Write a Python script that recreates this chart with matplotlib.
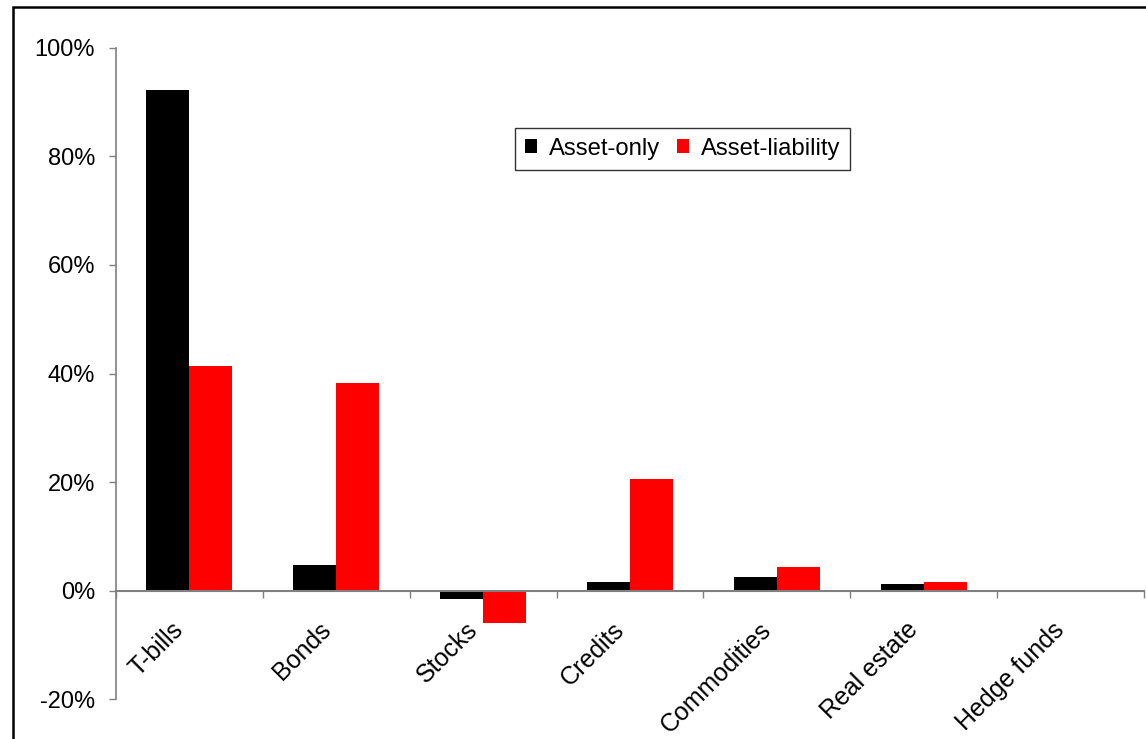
import matplotlib
matplotlib.use("Agg")
import matplotlib.pyplot as plt
from matplotlib.patches import Rectangle
from matplotlib.ticker import FuncFormatter, FixedLocator
from matplotlib.transforms import ScaledTranslation
import numpy as np

plt.rcParams['font.family'] = ['Liberation Sans', 'DejaVu Sans']

categories = ["T-bills", "Bonds", "Stocks", "Credits", "Commodities", "Real estate", "Hedge funds"]
asset_only = [92.3, 4.7, -1.5, 1.6, 2.6, 1.3, 0.0]
asset_liability = [41.4, 38.2, -6.0, 20.6, 4.4, 1.6, 0.0]
y_ticks = [-20, 0, 20, 40, 60, 80, 100]

W, H = 1146, 739
fig = plt.figure(figsize=(W / 100, H / 100), dpi=100)
ax = fig.add_axes([116 / W, 1 - 699.3 / H, (1144 - 116) / W, (699.3 - 47.7) / H])

x = np.arange(len(categories))
bw = 0.293
ax.bar(x - bw / 2, asset_only, width=bw, color="black", label="Asset-only", zorder=2)
ax.bar(x + bw / 2, asset_liability, width=bw, color="#ff0000", label="Asset-liability", zorder=2)

ax.set_xlim(-0.5, len(categories) - 0.5)
ax.set_ylim(-20, 100)

grey = "#808080"
for s in ("top", "right"):
    ax.spines[s].set_visible(False)
ax.spines["left"].set_color(grey)
ax.spines["bottom"].set_color(grey)
ax.spines["bottom"].set_position(("data", 0))
ax.spines["left"].set_linewidth(1.2)
ax.spines["bottom"].set_linewidth(1.5)

ax.set_yticks(y_ticks)
ax.yaxis.set_major_formatter(FuncFormatter(lambda v, p: f"{v:.0f}%"))
ax.tick_params(axis="y", direction="out", length=5, width=1, color=grey,
               labelsize=17, pad=10, labelcolor="black")

# category boundaries carry the tick marks, centres carry the labels
ax.xaxis.set_major_locator(FixedLocator(np.arange(-0.5, len(categories), 1.0)))
ax.xaxis.set_minor_locator(FixedLocator(x))
ax.set_xticklabels([], minor=False)
ax.set_xticklabels(categories, minor=True, rotation=45, ha="right",
                   va="top", rotation_mode="anchor")
ax.tick_params(axis="x", which="major", direction="out", length=5, width=1, color=grey)
ax.tick_params(axis="x", which="minor", length=0, labelsize=18, pad=19.5)
shift = ScaledTranslation(-18 / 100, 0, fig.dpi_scale_trans)
for lbl in ax.xaxis.get_minorticklabels():
    lbl.set_transform(lbl.get_transform() + shift)

leg = ax.legend(loc="upper left", bbox_to_anchor=(515 / W, 1 - 127.5 / H),
                bbox_transform=fig.transFigure, ncol=2, fontsize=17.2,
                frameon=True, fancybox=False, handlelength=0.5, handleheight=0.5,
                handletextpad=0.5, columnspacing=0.7, borderpad=0.42,
                borderaxespad=0)
leg.get_frame().set_edgecolor("black")
leg.get_frame().set_linewidth(1.0)

# outer frame around the chart area
fig.patches.append(Rectangle((13 / W, -0.1), 1.2, 1 - 6.5 / H + 0.1,
                             transform=fig.transFigure, fill=False,
                             edgecolor="black", linewidth=1.8))

fig.savefig("out.png", dpi=100)
